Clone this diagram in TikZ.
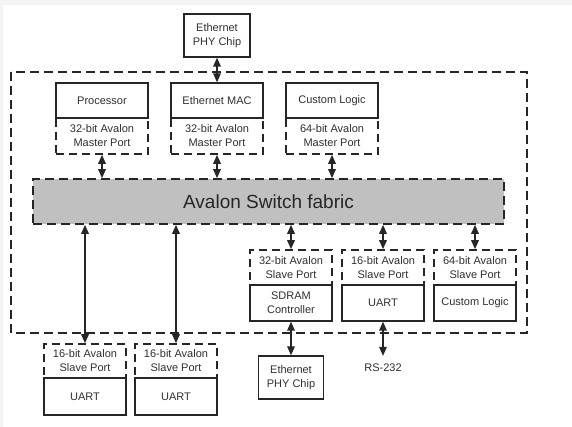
\documentclass[tikz,border=0pt]{standalone}
\usepackage{fontspec}
\setmainfont{Liberation Sans}
\usetikzlibrary{arrows.meta,positioning,calc}
\definecolor{aline}{HTML}{262626}
\definecolor{atext}{HTML}{303030}
\definecolor{afabric}{HTML}{C0C0C0}
\definecolor{aback}{HTML}{F4F4F4}

\tikzset{
  blockbox/.style={draw=aline,line width=1.3pt,fill=white,minimum width=92pt,minimum height=35pt,inner sep=0pt,align=center},
  portbox/.style={draw=aline,line width=1.6pt,dash pattern=on 8pt off 5pt,minimum width=92pt,minimum height=36pt,inner sep=0pt,align=center},
  frame/.style={draw=aline,line width=1.6pt,dash pattern=on 9pt off 5pt},
  link/.style={draw=aline,line width=1.6pt,{Triangle[length=9pt,width=7.5pt]}-{Triangle[length=9pt,width=7.5pt]}},
}

\begin{document}
\begin{tikzpicture}[x=1pt,y=-1pt,every node/.style={font=\fontsize{11}{14}\selectfont,text=atext}]
  % page and system frame
  \fill[aback] (0,0) rectangle (572,427);
  \fill[white] (3,5) rectangle (572,427);
  \draw[frame] (11,72) rectangle (527,333);

  \node[frame,fill=afabric,minimum width=471pt,minimum height=45pt,inner sep=0pt,
        font=\fontsize{19}{22}\selectfont,text=aline] (fabric) at (268.5,201.5) {Avalon Switch fabric};

  % masters
  \foreach \n/\x/\name/\bits in {proc/102/Processor/32, mac/217/Ethernet MAC/32, cust/332/Custom Logic/64} {
    \node[portbox] (port\n) at (\x,136) {\bits-bit Avalon\\Master Port};
    \node[blockbox] (\n) at (\x,100.5) {\name};
    \draw[link] (port\n.south) -- (port\n.south |- fabric.north);
  }

  % slaves inside
  \foreach \n/\x/\name/\bits in {sdram/291/SDRAM\\Controller/32, uart/383/UART/16, logic/475/Custom Logic/64} {
    \node[portbox,minimum width=82pt,minimum height=35pt] (port\n) at (\x,267.5) {\bits-bit Avalon\\Slave Port};
    \node[blockbox,minimum width=82pt,minimum height=36pt] (\n) at (\x,303) {\name};
    \draw[link] (fabric.south -| port\n.north) -- (port\n.north);
  }

  % slaves outside
  \foreach \n/\x in {uartA/85, uartB/176} {
    \node[portbox,minimum width=82pt,minimum height=34pt] (port\n) at (\x,361) {16-bit Avalon\\Slave Port};
    \node[blockbox,minimum width=82pt,minimum height=37pt] (\n) at (\x,396.5) {UART};
    \draw[link] (fabric.south -| port\n.north) -- (port\n.north);
  }

  % off-chip
  \node[blockbox,minimum width=66pt,minimum height=43pt] (phytop) at (217,35.5) {Ethernet\\PHY Chip};
  \draw[link] (phytop) -- (mac);
  \node[blockbox,minimum width=65pt,minimum height=43pt] (phybot) at (291,377.5) {Ethernet\\PHY Chip};
  \draw[link] (sdram) -- (phybot);
  \node[inner sep=0pt,inner ysep=7.5pt] (rs) at (383,367.5) {RS-232};
  \draw[link] (uart.south) -- (rs.north);
\end{tikzpicture}
\end{document}
